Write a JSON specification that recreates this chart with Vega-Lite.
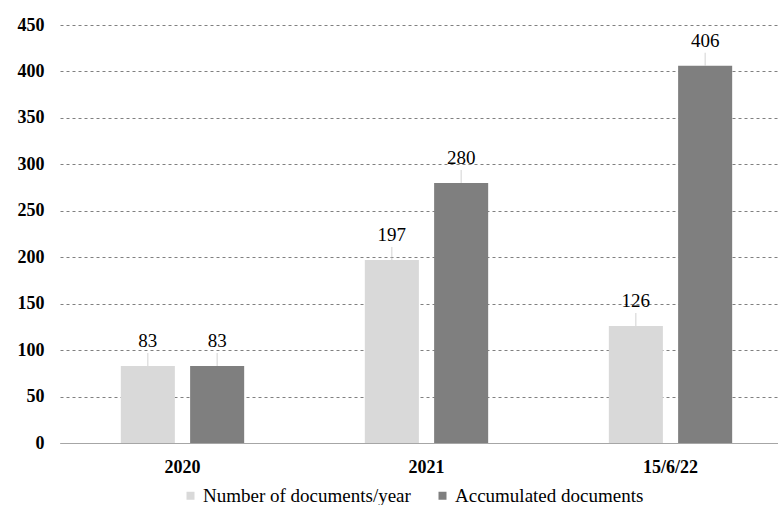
{
  "$schema": "https://vega.github.io/schema/vega-lite/v6.json",
  "width": 718,
  "height": 418,
  "autosize": "none",
  "padding": {"left": 60, "top": 25, "right": 0, "bottom": 62},
  "background": "white",
  "config": {
    "view": {"stroke": null},
    "font": "Liberation Serif",
    "text": {"font": "Liberation Serif"},
    "axis": {"labelFont": "Liberation Serif", "labelColor": "#000000", "labelFontSize": 18, "labelFontWeight": "bold", "title": null},
    "legend": {"labelFont": "Liberation Serif", "labelColor": "#000000", "labelFontSize": 19, "labelLimit": 0}
  },
  "data": {
    "values": [
      {"period": "2020", "series": "Number of documents/year", "value": 83},
      {"period": "2020", "series": "Accumulated documents", "value": 83},
      {"period": "2021", "series": "Number of documents/year", "value": 197},
      {"period": "2021", "series": "Accumulated documents", "value": 280},
      {"period": "15/6/22", "series": "Number of documents/year", "value": 126},
      {"period": "15/6/22", "series": "Accumulated documents", "value": 406}
    ]
  },
  "encoding": {
    "x": {
      "field": "period",
      "type": "nominal",
      "sort": ["2020", "2021", "15/6/22"],
      "scale": {"paddingInner": 0.2, "paddingOuter": 0.0713, "align": 0.7155},
      "axis": {"ticks": false, "labelAngle": 0, "labelPadding": 15, "domainColor": "#a6a6a6", "domainWidth": 1.2, "grid": false}
    },
    "xOffset": {
      "field": "series",
      "type": "nominal",
      "sort": ["Number of documents/year", "Accumulated documents"],
      "scale": {"paddingInner": 0.22, "paddingOuter": 0.5185}
    },
    "y": {
      "field": "value",
      "type": "quantitative",
      "scale": {"domain": [0, 450], "nice": false},
      "axis": {
        "values": [0, 50, 100, 150, 200, 250, 300, 350, 400, 450],
        "ticks": false,
        "domain": false,
        "labelPadding": 16,
        "grid": true,
        "gridColor": "#808080",
        "gridDash": [3, 3],
        "gridWidth": 1
      }
    }
  },
  "layer": [
    {
      "mark": {"type": "bar"},
      "encoding": {
        "color": {
          "field": "series",
          "type": "nominal",
          "scale": {"domain": ["Number of documents/year", "Accumulated documents"], "range": ["#d9d9d9", "#7f7f7f"]},
          "legend": {
            "title": null,
            "orient": "none",
            "direction": "horizontal",
            "legendX": 121,
            "legendY": 461,
            "symbolType": "square",
            "symbolSize": 64,
            "symbolStrokeWidth": 0,
            "labelOffset": 3,
            "labelFont": "Liberation Serif",
            "labelLimit": 0,
            "columnPadding": 22,
            "padding": 0
          }
        }
      }
    },
    {
      "mark": {"type": "tick", "orient": "vertical", "size": 13, "thickness": 1, "color": "#bfbfbf", "yOffset": -6.5}
    },
    {
      "mark": {"type": "text", "baseline": "alphabetic", "dy": -19, "fontSize": 19, "color": "#000000", "font": "Liberation Serif"},
      "encoding": {"text": {"field": "value", "type": "quantitative"}}
    }
  ]
}
